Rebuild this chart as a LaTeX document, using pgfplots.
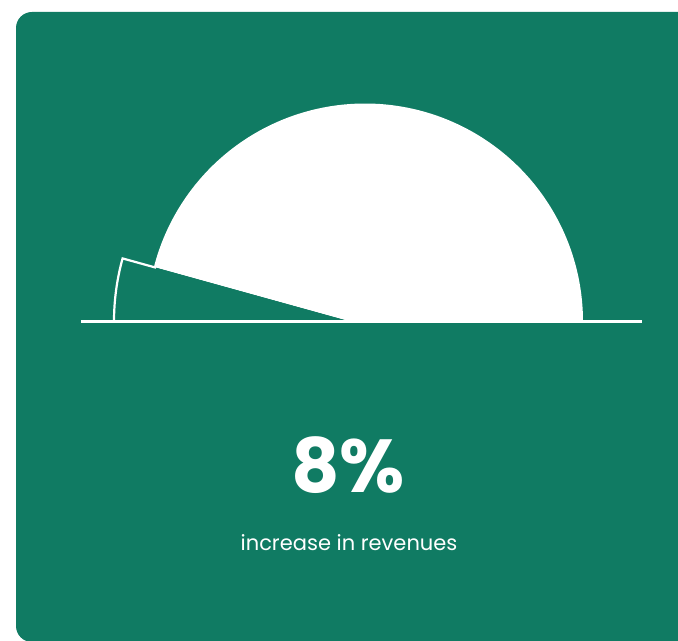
\documentclass[border=0pt]{standalone}
\usepackage{pgfplots}
\pgfplotsset{compat=1.18}
\usepackage{fontspec}
\setmainfont{Poppins}
\definecolor{bg}{RGB}{16,123,99}
% gauge: share shown = 8 (%), slice span (degrees)
\def\wend{165.55}
\def\sstart{164.5}
\begin{document}
\begin{tikzpicture}
\useasboundingbox (0,0) rectangle (678bp,641bp);
\fill[white] (0,0) rectangle (678bp,641bp);
\begin{axis}[anchor=south west, at={(0,0)}, scale only axis,
  width=678bp, height=641bp, xmin=0, xmax=678, ymin=0, ymax=641,
  hide axis, clip=true]
\fill[bg, rounded corners=16bp] (axis cs:16,-1) rectangle (axis cs:720,629);
% remaining part of the gauge (white)
\addplot[fill=white, draw=none, domain=0:\wend, samples=180, variable=\t]
  ({365+218*cos(\t)},{319.5+218*sin(\t)}) -- (axis cs:350,319.5) -- (axis cs:365,319.5) -- cycle;
% 8% slice (green, pulled out)
\addplot[fill=bg, draw=none, domain=\sstart:180, samples=30, variable=\t]
  ({350+236*cos(\t)},{319.5+236*sin(\t)}) -- (axis cs:350,319.5) -- cycle;
\addplot[draw=white, line width=2.2bp, line join=miter, domain=180:\sstart, samples=30, variable=\t]
  ({350+236*cos(\t)},{319.5+236*sin(\t)}) -- (axis cs:156,373.3);
\addplot[white, line width=2.2bp] coordinates {(81,319.5) (642,319.5)};
\node[white, anchor=base] at (axis cs:348,148) {\fontsize{75bp}{75bp}\selectfont\bfseries 8\%};
\node[white, anchor=base] at (axis cs:349,90) {\fontsize{21bp}{21bp}\selectfont increase in revenues};
\end{axis}
\end{tikzpicture}
\end{document}
